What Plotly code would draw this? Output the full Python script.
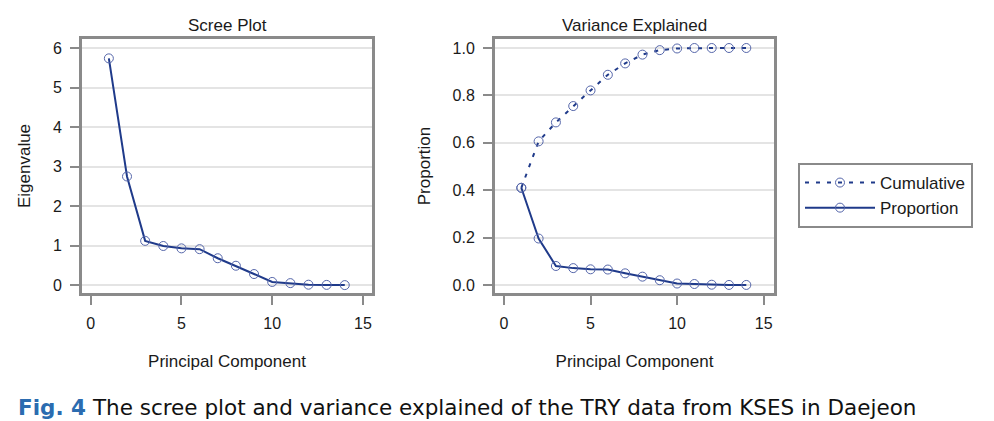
import plotly.graph_objects as go

# ---- data ----
components = list(range(1, 15))
eigenvalues = [5.74, 2.75, 1.12, 0.99, 0.93, 0.91, 0.68, 0.49, 0.28, 0.08, 0.05, 0.01, 0.005, 0.0]
proportion = [0.410, 0.196, 0.080, 0.071, 0.066, 0.065, 0.049, 0.035, 0.020, 0.006, 0.004, 0.001, 0.0, 0.0]
cumulative = [0.410, 0.606, 0.686, 0.755, 0.821, 0.887, 0.935, 0.972, 0.991, 0.998, 1.0, 1.0, 1.0, 1.0]
x_ticks = [0, 5, 10, 15]
left_y_ticks = [0, 1, 2, 3, 4, 5, 6]
right_y_ticks = [0.0, 0.2, 0.4, 0.6, 0.8, 1.0]

W, H = 994, 421
LINE = "#1f3a8a"
MARK = "#5566aa"
FRAME = "#8a8a8a"
GRID = "#e4e4e4"
TXT = "#1a1a1a"
FONT = "Liberation Sans, Arial, sans-serif"

fig = go.Figure()

fig.add_trace(go.Scatter(
    x=components, y=eigenvalues, mode="lines+markers", xaxis="x", yaxis="y",
    line=dict(color=LINE, width=2),
    marker=dict(symbol="circle-open", size=9, color=MARK, line=dict(width=1, color=MARK)),
    showlegend=False,
))
fig.add_trace(go.Scatter(
    x=components, y=cumulative, mode="lines+markers", xaxis="x2", yaxis="y2",
    name="Cumulative",
    line=dict(color=LINE, width=2, dash="4px,7px"),
    marker=dict(symbol="circle-open", size=9, color=MARK, line=dict(width=1, color=MARK)),
))
fig.add_trace(go.Scatter(
    x=components, y=proportion, mode="lines+markers", xaxis="x2", yaxis="y2",
    name="Proportion",
    line=dict(color=LINE, width=2),
    marker=dict(symbol="circle-open", size=9, color=MARK, line=dict(width=1, color=MARK)),
))

def px_x(a):
    return a / W

def px_y(a):
    return 1 - a / H

common_x = dict(
    tickvals=x_ticks, ticks="outside", ticklen=9, tickwidth=2, tickcolor=FRAME,
    showline=True, linecolor=FRAME, linewidth=3, mirror=True,
    showgrid=False, zeroline=False, automargin=False,
    tickfont=dict(family=FONT, size=16, color=TXT),
    title=dict(text="Principal Component", font=dict(family=FONT, size=17, color=TXT), standoff=24),
    ticklabelstandoff=5,
)
common_y = dict(
    ticks="outside", ticklen=9, tickwidth=2, tickcolor=FRAME,
    showline=True, linecolor=FRAME, linewidth=3, mirror=True,
    showgrid=True, gridcolor=GRID, gridwidth=2, zeroline=False, automargin=False,
    tickfont=dict(family=FONT, size=16, color=TXT),
    ticklabelstandoff=5,
)

dom_y = [px_y(285), px_y(31)]
fig.update_layout(
    template="none",
    width=W, height=H,
    margin=dict(l=0, r=0, t=0, b=0),
    paper_bgcolor="white", plot_bgcolor="white",
    font=dict(family=FONT, color=TXT),
    xaxis=dict(domain=[px_x(74), px_x(364)], range=[-0.48, 15.5], anchor="y", **common_x),
    yaxis=dict(domain=dom_y, range=[-0.2, 6.23], anchor="x", tickvals=left_y_ticks,
               title=dict(text="Eigenvalue", font=dict(family=FONT, size=17, color=TXT), standoff=18),
               **common_y),
    xaxis2=dict(domain=[px_x(487), px_x(766)], range=[-0.52, 15.6], anchor="y2", **common_x),
    yaxis2=dict(domain=dom_y, range=[-0.034, 1.038], anchor="x2", tickvals=right_y_ticks,
                tickformat=".1f",
                title=dict(text="Proportion", font=dict(family=FONT, size=17, color=TXT), standoff=18),
                **common_y),
    showlegend=True,
    legend=dict(
        x=px_x(790), y=px_y(155), xanchor="left", yanchor="top",
        bgcolor="white", bordercolor=FRAME, borderwidth=2,
        font=dict(family=FONT, size=17, color=TXT),
        itemwidth=70, tracegroupgap=0,
    ),
    annotations=[
        dict(text="Scree Plot", x=px_x(219), y=px_y(17), xref="paper", yref="paper",
             xanchor="center", yanchor="middle",
             showarrow=False, font=dict(family=FONT, size=17, color=TXT)),
        dict(text="Variance Explained", x=px_x(626), y=px_y(17), xref="paper", yref="paper",
             xanchor="center", yanchor="middle",
             showarrow=False, font=dict(family=FONT, size=17, color=TXT)),
        dict(text="<b><span style='color:#2b6cb0'>Fig. 4</span></b> The scree plot and variance explained of the TRY data from KSES in Daejeon",
             x=px_x(8), y=px_y(399), xref="paper", yref="paper", xanchor="left", yanchor="middle",
             showarrow=False,
             font=dict(family="DejaVu Sans, sans-serif", size=21.5, color="#111")),
    ],
)

fig.write_html("out.html")
